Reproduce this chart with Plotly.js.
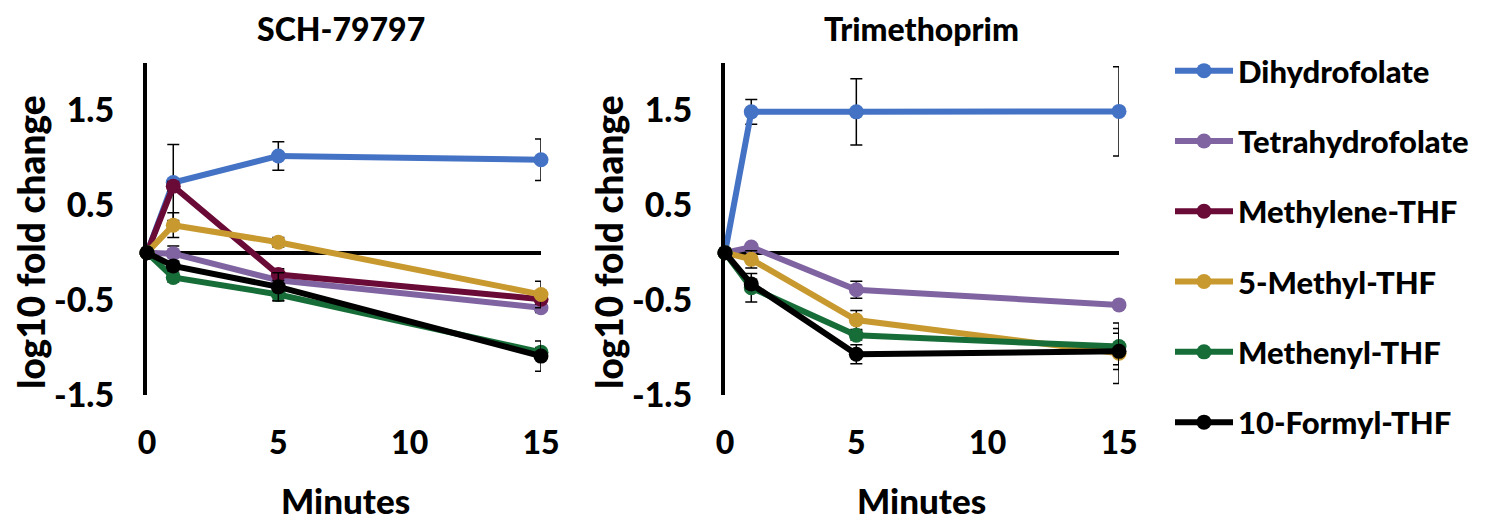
<!DOCTYPE html>
<html>
<head>
<meta charset="utf-8">
<script src="https://cdn.plot.ly/plotly-3.0.1.min.js"></script>
<style>html,body{margin:0;padding:0;background:#fff;}#chart{width:1487px;height:520px;}</style>
</head>
<body>
<div id="chart"></div>
<script>
// ---- data ----
const minutes = [0, 1, 5, 15];
const seriesNames = ["Dihydrofolate", "Tetrahydrofolate", "Methylene-THF", "5-Methyl-THF", "Methenyl-THF", "10-Formyl-THF"];
const seriesColors = ["#4472C4", "#8064A2", "#6A0A36", "#C8992F", "#176D38", "#000000"];

// SCH-79797 (log10 fold change)
const schDihydrofolate    = [0, 0.74, 1.02, 0.98];
const schTetrahydrofolate = [0, -0.01, -0.29, -0.58];
const schMethyleneTHF     = [0, 0.70, -0.23, -0.49];
const schMethylTHF        = [0, 0.29, 0.11, -0.44];
const schMethenylTHF      = [0, -0.26, -0.44, -1.05];
const schFormylTHF        = [0, -0.14, -0.36, -1.09];
// SCH-79797 error
const schDihydrofolateErr    = [null, 0.40, 0.15, 0.22];
const schTetrahydrofolateErr = [null, 0.08, 0.05, 0.05];
const schMethyleneTHFErr     = [null, 0.05, 0.06, 0.05];
const schMethylTHFErr        = [null, 0.13, 0.05, 0.14];
const schMethenylTHFErr      = [null, 0.05, 0.06, 0.05];
const schFormylTHFErr        = [null, 0.05, 0.15, 0.16];

// Trimethoprim (log10 fold change)
const tmpDihydrofolate    = [0, 1.485, 1.485, 1.49];
const tmpTetrahydrofolate = [0, 0.06, -0.39, -0.55];
const tmpMethylTHF        = [0, -0.07, -0.71, -1.06];
const tmpMethenylTHF      = [0, -0.37, -0.87, -0.99];
const tmpFormylTHF        = [0, -0.33, -1.07, -1.04];
// Trimethoprim error
const tmpDihydrofolateErr    = [null, 0.13, 0.35, 0.47];
const tmpTetrahydrofolateErr = [null, 0.03, 0.09, 0.03];
const tmpMethylTHFErr        = [null, 0.09, 0.10, 0.32];
const tmpMethenylTHFErr      = [null, 0.15, 0.05, 0.19];
const tmpFormylTHFErr        = [null, 0.05, 0.10, 0.19];

const yTickVals = [-1.5, -0.5, 0.5, 1.5];
const yTickText = ["-1.5", "-0.5", "0.5", "1.5"];
const xTickVals = [0, 5, 10, 15];
const xTickText = ["0", "5", "10", "15"];

// ---- build ----
const FONT = "Lato, 'Open Sans', sans-serif";
function mk(idx, y, err, xa, ya, showLegend) {
  return {
    type: "scatter", mode: "lines+markers",
    x: minutes, y: y, xaxis: xa, yaxis: ya,
    name: seriesNames[idx], legendgroup: "g" + idx, showlegend: showLegend,
    line: {color: seriesColors[idx], width: 6},
    marker: {color: seriesColors[idx], size: 15},
    error_y: {type: "data", array: err, visible: true, color: "#000", thickness: 1.5, width: 6},
    cliponaxis: false
  };
}
const traces = [
  mk(0, schDihydrofolate, schDihydrofolateErr, "x", "y", true),
  mk(1, schTetrahydrofolate, schTetrahydrofolateErr, "x", "y", true),
  mk(2, schMethyleneTHF, schMethyleneTHFErr, "x", "y", true),
  mk(3, schMethylTHF, schMethylTHFErr, "x", "y", true),
  mk(4, schMethenylTHF, schMethenylTHFErr, "x", "y", true),
  mk(5, schFormylTHF, schFormylTHFErr, "x", "y", true),
  mk(0, tmpDihydrofolate, tmpDihydrofolateErr, "x2", "y2", false),
  mk(1, tmpTetrahydrofolate, tmpTetrahydrofolateErr, "x2", "y2", false),
  mk(3, tmpMethylTHF, tmpMethylTHFErr, "x2", "y2", false),
  mk(4, tmpMethenylTHF, tmpMethenylTHFErr, "x2", "y2", false),
  mk(5, tmpFormylTHF, tmpFormylTHFErr, "x2", "y2", false)
];

const W = 1487, H = 520;
const yDom = [(H - 395) / H, (H - 63) / H];
function xAxis(dom) {
  return {
    domain: dom, range: [0, 15], showgrid: false, zeroline: false, showline: false,
    tickmode: "array", tickvals: xTickVals, ticktext: xTickText,
    ticks: "outside", ticklen: 20, tickcolor: "rgba(0,0,0,0)",
    tickfont: {family: FONT, size: 32, color: "#000", weight: 900}, fixedrange: true
  };
}
function yAxis(anchor) {
  return {
    domain: yDom, range: [-1.5, 2], anchor: anchor, showgrid: false,
    zeroline: true, zerolinecolor: "#000", zerolinewidth: 4,
    showline: true, linecolor: "#000", linewidth: 4,
    tickmode: "array", tickvals: yTickVals, ticktext: yTickText,
    ticks: "outside", ticklen: 22, tickcolor: "rgba(0,0,0,0)",
    tickfont: {family: FONT, size: 34, color: "#000", weight: 900}, fixedrange: true
  };
}
const ann = (text, x, y, size, angle) => ({
  text: text, xref: "paper", yref: "paper", x: x / W, y: (H - y) / H,
  xanchor: "center", yanchor: "middle", showarrow: false, textangle: angle || 0,
  font: {family: FONT, size: size, color: "#000", weight: 900}
});
const layout = {
  width: W, height: H, margin: {l: 0, r: 0, t: 0, b: 0},
  paper_bgcolor: "#fff", plot_bgcolor: "#fff", showlegend: true,
  xaxis: Object.assign(xAxis([147 / W, 541 / W]), {anchor: "y"}),
  yaxis: yAxis("x"),
  xaxis2: Object.assign(xAxis([725 / W, 1119 / W]), {anchor: "y2"}),
  yaxis2: yAxis("x2"),
  legend: {
    x: 1170 / W, y: (H - 44) / H, xanchor: "left", yanchor: "top",
    font: {family: FONT, size: 31, color: "#000", weight: 900},
    tracegroupgap: 27, itemwidth: 58, bgcolor: "rgba(0,0,0,0)"
  },
  annotations: [
    ann("SCH-79797", 341, 28, 32),
    ann("Trimethoprim", 921, 28, 32),
    ann("log10 fold change", 30, 242, 37, -90),
    ann("log10 fold change", 608, 242, 37, -90),
    ann("Minutes", 345, 500, 35),
    ann("Minutes", 921, 500, 35)
  ]
};
Plotly.newPlot("chart", traces, layout, {displayModeBar: false, staticPlot: true});
</script>
</body>
</html>
